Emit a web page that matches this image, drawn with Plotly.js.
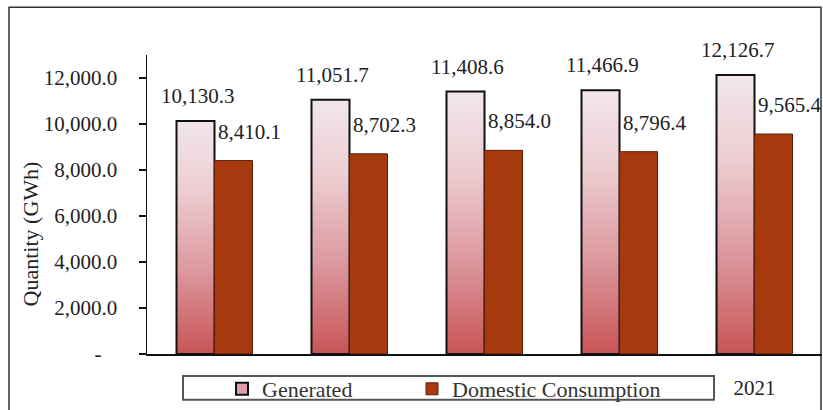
<!DOCTYPE html>
<html>
<head>
<meta charset="utf-8">
<script src="https://cdn.plot.ly/plotly-3.0.1.min.js"></script>
<style>
html,body{margin:0;padding:0;background:#fff;}
#chart{width:823px;height:410px;}
</style>
</head>
<body>
<div id="chart"></div>
<script>
const years = ['2017', '2018', '2019', '2020', '2021'];
const generated = [10130.3, 11051.7, 11408.6, 11466.9, 12126.7];
const domestic = [8410.1, 8702.3, 8854.0, 8796.4, 9565.4];
const yTickVals = [0, 2000, 4000, 6000, 8000, 10000, 12000];
const yTickText = ['-\u00a0\u00a0\u00a0', '2,000.0', '4,000.0', '6,000.0', '8,000.0', '10,000.0', '12,000.0'];
// only the last year label is visible in the reference (the others sit behind the legend box)
const xTickVals = [years[4]];
const xTickText = [years[4]];
const seriesNames = ['Generated', 'Domestic Consumption'];
const yTitle = 'Quantity (GWh)';

const FONT = 'Liberation Serif, Times New Roman, serif';
const fmt = v => v.toLocaleString('en-US', {minimumFractionDigits: 1, maximumFractionDigits: 1});

const traces = [
  {
    type: 'bar', name: seriesNames[0], x: years, y: generated,
    marker: {color: '#dca0a6', line: {color: '#111111', width: 2}},
    legendwidth: 145,
    hoverinfo: 'none'
  },
  {
    type: 'bar', name: seriesNames[1], x: years, y: domestic,
    marker: {color: '#a63a0e', line: {color: '#5a1e08', width: 1}},
    legendwidth: 260,
    hoverinfo: 'none'
  }
];

const annotations = [];
years.forEach((yr, i) => {
  annotations.push({
    x: i, y: generated[i], xref: 'x', yref: 'y', text: fmt(generated[i]),
    showarrow: false, xanchor: 'center', yanchor: 'middle', xshift: -17, yshift: 25,
    font: {family: FONT, size: 21, color: '#222'}
  });
  annotations.push({
    x: i, y: domestic[i], xref: 'x', yref: 'y', text: fmt(domestic[i]),
    showarrow: false, xanchor: 'center', yanchor: 'middle', xshift: 35, yshift: 29,
    font: {family: FONT, size: 21, color: '#222'}
  });
});
annotations.push({
  xref: 'paper', yref: 'paper', x: (30 - 147) / 675, y: (355 - 235) / 300,
  xanchor: 'center', yanchor: 'middle', textangle: -90, showarrow: false,
  text: yTitle, font: {family: FONT, size: 22, color: '#222'}
});

const layout = {
  width: 823, height: 410,
  margin: {l: 147, r: 1, t: 55, b: 55},
  paper_bgcolor: '#ffffff', plot_bgcolor: '#ffffff',
  barmode: 'group', bargap: 0.437, bargroupgap: 0,
  font: {family: FONT, size: 21, color: '#222'},
  showlegend: true,
  legend: {
    orientation: 'h', x: (222 - 147) / 675, xanchor: 'left',
    y: (355 - 389) / 300, yanchor: 'middle',
    bgcolor: 'rgba(0,0,0,0)', borderwidth: 0,
    font: {family: FONT, size: 22, color: '#333'}
  },
  xaxis: {
    type: 'category', range: [-0.5, 4.5], showgrid: false, zeroline: false,
    showline: true, linecolor: '#111', linewidth: 1.5,
    ticks: '', ticklabelstandoff: 14,
    tickvals: xTickVals, ticktext: xTickText,
    tickfont: {family: FONT, size: 21, color: '#222'},
    fixedrange: true
  },
  yaxis: {
    range: [0, 13000], showgrid: false, zeroline: false,
    showline: true, linecolor: '#111', linewidth: 1.5,
    ticks: 'outside', ticklen: 7, tickwidth: 1.5, tickcolor: '#111',
    tickvals: yTickVals, ticktext: yTickText, ticklabelstandoff: 17,
    tickfont: {family: FONT, size: 21, color: '#222'},
    fixedrange: true
  },
  annotations: annotations,
  shapes: [
    {type: 'rect', xref: 'paper', yref: 'paper',
     x0: (9 - 147) / 675, x1: (821 - 147) / 675, y0: -0.4, y1: (355 - 7) / 300,
     line: {color: '#333', width: 1.5}, fillcolor: 'rgba(0,0,0,0)', layer: 'below'},
    {type: 'rect', xref: 'paper', yref: 'paper',
     x0: (183 - 147) / 675, x1: (714 - 147) / 675, y0: (355 - 401) / 300, y1: (355 - 377) / 300,
     line: {color: '#555', width: 2}, fillcolor: '#ffffff', layer: 'above'}
  ]
};

Plotly.newPlot('chart', traces, layout, {displayModeBar: false, staticPlot: true}).then(gd => {
  const svg = gd.querySelector('.main-svg');
  const NS = 'http://www.w3.org/2000/svg';
  let defs = svg.querySelector('defs');
  if (!defs) { defs = document.createElementNS(NS, 'defs'); svg.insertBefore(defs, svg.firstChild); }
  const grad = document.createElementNS(NS, 'linearGradient');
  grad.setAttribute('id', 'genGrad');
  grad.setAttribute('x1', '0'); grad.setAttribute('y1', '0');
  grad.setAttribute('x2', '0'); grad.setAttribute('y2', '1');
  [['0', '#f1e6ec'], ['0.3', '#edcdd1'], ['0.65', '#db979d'], ['1', '#c85456']].forEach(([o, c]) => {
    const s = document.createElementNS(NS, 'stop');
    s.setAttribute('offset', o); s.setAttribute('stop-color', c);
    grad.appendChild(s);
  });
  defs.appendChild(grad);
  const firstTrace = gd.querySelector('.barlayer .trace');
  if (firstTrace) {
    firstTrace.querySelectorAll('.point path').forEach(p => { p.style.fill = 'url(#genGrad)'; });
  }
});
</script>
</body>
</html>
